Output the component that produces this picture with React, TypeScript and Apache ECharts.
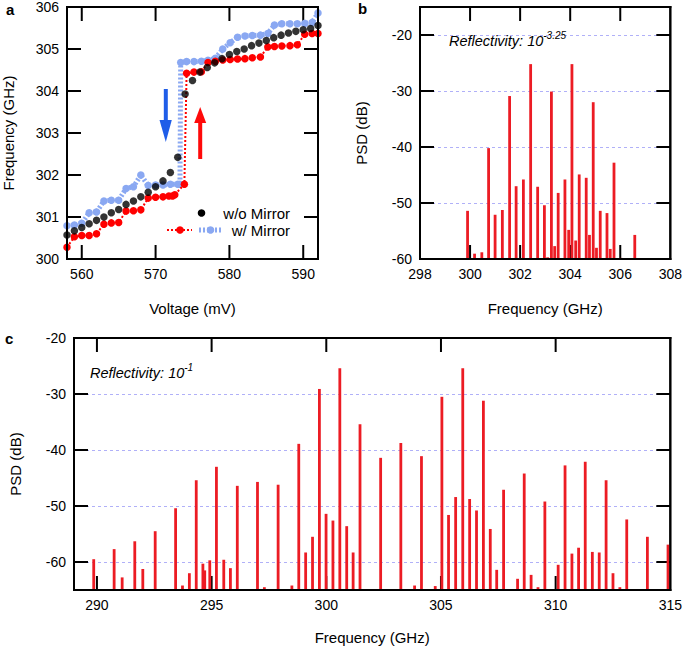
import React, { useEffect, useRef } from 'react';
import * as echarts from 'echarts';

// ---------- Panel a: frequency vs voltage ----------
const voltage = [558, 559, 560, 561, 562, 563, 564, 565, 566, 567, 568, 569, 570, 571, 572, 573, 574, 575, 576, 577, 578, 579, 580, 581, 582, 583, 584, 585, 586, 587, 588, 589, 590, 591, 592];
const freqNoMirror = [300.57, 300.67, 300.75, 300.84, 300.92, 301.0, 301.1, 301.18, 301.3, 301.38, 301.48, 301.59, 301.72, 301.86, 302.06, 302.42, 303.93, 304.25, 304.45, 304.56, 304.67, 304.77, 304.87, 304.94, 305.0, 305.08, 305.14, 305.2, 305.27, 305.33, 305.38, 305.42, 305.46, 305.49, 305.56];

const upVoltage = [558, 559, 560, 561, 562, 563, 564, 565, 566, 567, 568, 569, 570, 571, 571.8, 572.3, 572.6, 573.9, 574.2, 575.2, 576.2, 577.1, 578.1, 579.1, 580.1, 581.1, 582.1, 583.1, 584.2, 585.2, 586.1, 587.1, 588.2, 589.2, 590.2, 591.2, 592];
const upFreq = [300.28, 300.53, 300.56, 300.56, 300.6, 300.83, 300.86, 300.87, 301.14, 301.15, 301.17, 301.45, 301.47, 301.48, 301.5, 301.5, 301.53, 301.78, 304.42, 304.45, 304.46, 304.68, 304.71, 304.74, 304.75, 304.76, 304.77, 304.79, 304.81, 305.05, 305.06, 305.07, 305.08, 305.1, 305.35, 305.37, 305.37];

const downVoltage = [558, 559, 560, 561, 562, 563, 564, 565, 566, 567, 568, 569, 570, 571, 572, 573, 573.3, 573.4, 574.2, 575.2, 576.2, 577.1, 578.1, 579.1, 580.1, 581.1, 582.1, 583.1, 584.2, 585.2, 586.1, 587.1, 588.2, 589.2, 590.2, 591.2, 592];
const downFreq = [300.79, 300.81, 300.85, 301.1, 301.12, 301.38, 301.4, 301.4, 301.68, 301.72, 302.0, 301.75, 301.76, 301.76, 301.78, 301.78, 301.78, 304.68, 304.7, 304.7, 304.71, 304.73, 304.78, 305.0, 305.15, 305.28, 305.31, 305.32, 305.33, 305.37, 305.57, 305.6, 305.6, 305.6, 305.61, 305.63, 305.86];

const aXRange = [558, 592];
const aYRange = [300, 306];
const aXLabels = [560, 570, 580, 590];
const aYLabels = [300, 301, 302, 303, 304, 305, 306];
const aYTicks = [301, 302, 303, 304, 305];

// ---------- Panel b: PSD, reflectivity 10^-3.25 ----------
const bFreq = [299.9, 300.18, 300.47, 300.74, 301.0, 301.29, 301.58, 301.84, 302.13, 302.42, 302.7, 302.97, 303.1, 303.25, 303.38, 303.52, 303.79, 303.94, 304.07, 304.22, 304.36, 304.64, 304.77, 304.92, 305.05, 305.2, 305.47, 305.6, 305.75, 306.03, 306.58];
const bPsd = [-51.4, -59.05, -58.8, -40.2, -52.1, -51.25, -30.9, -47.0, -45.8, -25.2, -47.1, -50.4, -59.7, -30.1, -57.7, -48.2, -45.8, -54.8, -25.2, -56.7, -44.9, -45.5, -55.7, -32.0, -58.0, -51.4, -51.8, -58.2, -42.8, -59.8, -55.7];
const bXRange = [298, 308];
const bYRange = [-60, -15];
const bXLabels = [298, 300, 302, 304, 306, 308];
const bXTicks = [300, 302, 304, 306];
const bYLabels = [-60, -50, -40, -30, -20];
const bYTicks = [-50, -40, -30, -20];

// ---------- Panel c: PSD, reflectivity 10^-1 ----------
const cFreq = [289.86, 290.75, 291.1, 291.65, 292.0, 292.54, 293.43, 293.73, 294.03, 294.33, 294.62, 294.7, 294.92, 295.21, 295.53, 295.82, 296.12, 297.0, 297.3, 297.9, 298.5, 298.8, 299.1, 299.4, 299.7, 299.99, 300.29, 300.59, 300.89, 301.17, 301.47, 302.37, 303.25, 303.85, 304.15, 304.75, 305.04, 305.33, 305.64, 305.95, 306.25, 306.55, 306.85, 307.15, 307.43, 307.73, 308.34, 308.63, 308.93, 309.23, 309.53, 310.11, 310.41, 310.71, 311.0, 311.29, 311.6, 311.9, 312.2, 312.5, 312.8, 313.1, 314.0, 314.9];
const cPsd = [-59.5, -57.7, -62.75, -56.3, -61.25, -54.5, -50.4, -64.2, -62.0, -45.4, -60.3, -61.5, -59.7, -43.0, -59.6, -61.1, -46.4, -45.7, -64.5, -46.2, -64.2, -38.9, -58.3, -55.5, -29.1, -51.4, -52.6, -25.4, -53.6, -58.3, -35.4, -41.4, -38.75, -64.2, -41.1, -64.3, -30.5, -51.6, -48.4, -25.4, -48.75, -50.8, -31.2, -54.1, -61.4, -47.1, -63.0, -44.2, -62.3, -64.5, -49.2, -60.5, -42.75, -58.5, -57.45, -42.1, -58.2, -58.3, -45.4, -62.0, -64.5, -52.4, -55.5, -56.9];
const cXRange = [289, 315];
const cYRange = [-65, -20];
const cXLabels = [290, 295, 300, 305, 310, 315];
const cXTicks = [290, 295, 300, 305, 310];
const cYLabels = [-60, -50, -40, -30, -20];
const cYTicks = [-60, -50, -40, -30];

const FONT = 'Liberation Sans';
const RED = '#ec1c24';
const BLUE_LIGHT = '#8aa8f2';
const TICK_LEN = 14;

const makeLabel = (values: number[]) => ({ show: true, color: '#000', fontSize: 14, fontFamily: FONT, margin: 8, customValues: values });
const nameStyle = () => ({ color: '#000', fontSize: 15, fontFamily: FONT });

function xAxisDef(grid: number, range: number[], labels: number[], name: string, nameGap: number) {
  return {
    gridIndex: grid, type: 'value', min: range[0], max: range[1],
    axisLine: { show: true, lineStyle: { color: '#000', width: 2 } }, axisTick: { show: false },
    axisLabel: makeLabel(labels), splitLine: { show: false },
    name, nameLocation: 'middle', nameGap, nameTextStyle: nameStyle(),
  };
}
function yAxisDef(grid: number, range: number[], labels: number[], grids: number[], dashed: boolean, name: string) {
  return {
    gridIndex: grid, type: 'value', min: range[0], max: range[1],
    axisLine: { show: true, lineStyle: { color: '#000', width: 2 } }, axisTick: { show: false, customValues: grids },
    axisLabel: makeLabel(labels),
    splitLine: dashed ? { show: true, lineStyle: { color: '#b0b0f8', width: 1, type: [3, 3] } } : { show: false },
    name, nameLocation: 'middle', nameGap: 51, nameTextStyle: nameStyle(),
  };
}

// frame edges: rows [x1, y1, x2, y2] in data coordinates
function frameRows(xr: number[], yr: number[]) {
  return [
    [xr[0], yr[0], xr[1], yr[0]],
    [xr[0], yr[1], xr[1], yr[1]],
    [xr[0], yr[0], xr[0], yr[1]],
    [xr[1], yr[0], xr[1], yr[1]],
  ];
}
// inward ticks: rows [x, y, orientation(0 vertical / 1 horizontal), direction(+1 / -1 in pixels)]
function tickRows(xr: number[], yr: number[], xt: number[], yt: number[]) {
  const rows: number[][] = [];
  xt.forEach((v) => { rows.push([v, yr[0], 0, -1]); rows.push([v, yr[1], 0, 1]); });
  yt.forEach((v) => { rows.push([xr[0], v, 1, 1]); rows.push([xr[1], v, 1, -1]); });
  return rows;
}

function frameSeries(idx: number, xr: number[], yr: number[]) {
  return {
    type: 'custom', xAxisIndex: idx, yAxisIndex: idx, z: 6,
    data: frameRows(xr, yr),
    encode: { x: 0, y: 1 },
    renderItem: (_p: any, api: any) => {
      const a = api.coord([api.value(0), api.value(1)]);
      const b = api.coord([api.value(2), api.value(3)]);
      return {
        type: 'rect',
        shape: { x: Math.min(a[0], b[0]) - 1, y: Math.min(a[1], b[1]) - 1, width: Math.abs(a[0] - b[0]) + 2, height: Math.abs(a[1] - b[1]) + 2 },
        style: { fill: '#000' },
      };
    },
  };
}

function tickSeries(idx: number, xr: number[], yr: number[], xt: number[], yt: number[]) {
  return {
    type: 'custom', xAxisIndex: idx, yAxisIndex: idx, z: 2,
    data: tickRows(xr, yr, xt, yt),
    encode: { x: 0, y: 1 },
    renderItem: (_p: any, api: any) => {
      const a = api.coord([api.value(0), api.value(1)]);
      const vertical = api.value(2) === 0;
      const dir = api.value(3);
      const shape = vertical
        ? { x: a[0] - 1, y: dir > 0 ? a[1] : a[1] - TICK_LEN, width: 2, height: TICK_LEN }
        : { x: dir > 0 ? a[0] : a[0] - TICK_LEN, y: a[1] - 1, width: TICK_LEN, height: 2 };
      return { type: 'rect', shape, style: { fill: '#000' } };
    },
  };
}

function stems(freq: number[], psd: number[], base: number, idx: number) {
  return {
    type: 'custom', xAxisIndex: idx, yAxisIndex: idx, z: 2,
    data: freq.map((f, i) => [f, psd[i]]),
    encode: { x: 0, y: 1 },
    renderItem: (_p: any, api: any) => {
      const top = api.coord([api.value(0), api.value(1)]);
      const bot = api.coord([api.value(0), base]);
      return {
        type: 'rect',
        shape: { x: top[0] - 1.4, y: top[1], width: 2.8, height: bot[1] - top[1] },
        style: { fill: RED },
      };
    },
  };
}

const richStyle = () => ({
  m: { fontSize: 14.5, fontStyle: 'italic', fontFamily: FONT, lineHeight: 22 },
  s: { fontSize: 10, fontStyle: 'italic', fontFamily: FONT, verticalAlign: 'top', lineHeight: 12 },
});

export default function App() {
  const ref = useRef<HTMLDivElement>(null);
  useEffect(() => {
    if (!ref.current) return;
    const chart = echarts.init(ref.current, null, { renderer: 'svg' });
    const option: any = {
      animation: false,
      textStyle: { fontFamily: FONT },
      grid: [
        { left: 66, top: 7, width: 252, height: 252, show: true, borderColor: '#000', borderWidth: 2, backgroundColor: 'transparent' },
        { left: 420, top: 7, width: 252, height: 252, show: true, borderColor: '#000', borderWidth: 2, backgroundColor: 'transparent' },
        { left: 66, top: 338, width: 605, height: 252.5, show: true, borderColor: '#000', borderWidth: 2, backgroundColor: 'transparent' },
      ],
      xAxis: [
        xAxisDef(0, aXRange, aXLabels, 'Voltage (mV)', 42),
        xAxisDef(1, bXRange, bXLabels, 'Frequency (GHz)', 42),
        xAxisDef(2, cXRange, cXLabels, 'Frequency (GHz)', 40),
      ],
      yAxis: [
        yAxisDef(0, aYRange, aYLabels, aYLabels, false, 'Frequency (GHz)'),
        yAxisDef(1, bYRange, bYLabels, bYTicks, true, 'PSD (dB)'),
        yAxisDef(2, cYRange, cYLabels, cYTicks, true, 'PSD (dB)'),
      ],
      series: [
        tickSeries(0, aXRange, aYRange, aXLabels, aYTicks),
        tickSeries(1, bXRange, bYRange, bXTicks, bYTicks),
        tickSeries(2, cXRange, cYRange, cXTicks, cYTicks),
        {
          name: 'w/ Mirror (down)', type: 'line', xAxisIndex: 0, yAxisIndex: 0, z: 3,
          data: downVoltage.map((v, i) => [v, downFreq[i]]),
          symbol: 'circle', symbolSize: 7.5, showSymbol: true,
          lineStyle: { color: BLUE_LIGHT, width: 5, type: [2, 2] },
          itemStyle: { color: BLUE_LIGHT },
        },
        {
          name: 'w/ Mirror (up)', type: 'line', xAxisIndex: 0, yAxisIndex: 0, z: 4,
          data: upVoltage.map((v, i) => [v, upFreq[i]]),
          symbol: 'circle', symbolSize: 7.5, showSymbol: true,
          lineStyle: { color: '#ff0000', width: 2, type: [2, 2] },
          itemStyle: { color: '#ff0000' },
        },
        {
          name: 'w/o Mirror', type: 'scatter', xAxisIndex: 0, yAxisIndex: 0, z: 5,
          data: voltage.map((v, i) => [v, freqNoMirror[i]]),
          symbol: 'circle', symbolSize: 7.5,
          itemStyle: { color: '#000' },
        },
        stems(bFreq, bPsd, bYRange[0], 1),
        stems(cFreq, cPsd, cYRange[0], 2),
        frameSeries(0, aXRange, aYRange),
        frameSeries(1, bXRange, bYRange),
        frameSeries(2, cXRange, cYRange),
      ],
      graphic: [
        { type: 'text', x: 6, y: 2, style: { text: 'a', fontSize: 15, fontWeight: 'bold', fontFamily: FONT, fill: '#000' } },
        { type: 'text', x: 358, y: 1, style: { text: 'b', fontSize: 15, fontWeight: 'bold', fontFamily: FONT, fill: '#000' } },
        { type: 'text', x: 5, y: 331, style: { text: 'c', fontSize: 15, fontWeight: 'bold', fontFamily: FONT, fill: '#000' } },
        // arrows
        { type: 'rect', z: 20, shape: { x: 163.8, y: 89, width: 4, height: 32 }, style: { fill: '#1f5de8' } },
        { type: 'polygon', z: 20, shape: { points: [[159.5, 120], [171.8, 120], [165.8, 142]] }, style: { fill: '#1f5de8' } },
        { type: 'rect', z: 20, shape: { x: 198.2, y: 122, width: 4, height: 37 }, style: { fill: '#ff0a0a' } },
        { type: 'polygon', z: 20, shape: { points: [[194.2, 123], [206.2, 123], [200.2, 107]] }, style: { fill: '#ff0a0a' } },
        // legend
        { type: 'circle', z: 20, shape: { cx: 201.5, cy: 213, r: 3.8 }, style: { fill: '#000' } },
        { type: 'text', z: 20, x: 290, y: 213, style: { text: 'w/o Mirror', fontSize: 15, fontFamily: FONT, fill: '#000', align: 'right', verticalAlign: 'middle' } },
        { type: 'line', z: 20, shape: { x1: 167, y1: 230, x2: 192, y2: 230 }, style: { stroke: '#ff0000', lineWidth: 2, lineDash: [2, 2] } },
        { type: 'circle', z: 20, shape: { cx: 180, cy: 230, r: 3.8 }, style: { fill: '#ff0000' } },
        { type: 'line', z: 20, shape: { x1: 199, y1: 230, x2: 222, y2: 230 }, style: { stroke: BLUE_LIGHT, lineWidth: 5, lineDash: [2, 2] } },
        { type: 'circle', z: 20, shape: { cx: 210.5, cy: 230, r: 3.8 }, style: { fill: BLUE_LIGHT } },
        { type: 'text', z: 20, x: 290, y: 230, style: { text: 'w/ Mirror', fontSize: 15, fontFamily: FONT, fill: '#000', align: 'right', verticalAlign: 'middle' } },
        // reflectivity annotations
        { type: 'text', z: 20, x: 449, y: 41, style: { text: '{m|Reflectivity: 10}{s|-3.25}', verticalAlign: 'middle', fill: '#000', rich: richStyle() } },
        { type: 'text', z: 20, x: 90, y: 373, style: { text: '{m|Reflectivity: 10}{s|-1}', verticalAlign: 'middle', fill: '#000', rich: richStyle() } },
      ],
    };
    chart.setOption(option);
    return () => chart.dispose();
  }, []);
  return <div ref={ref} style={{ position: 'absolute', left: 0, top: 0, width: 685, height: 646, background: '#fff' }} />;
}
